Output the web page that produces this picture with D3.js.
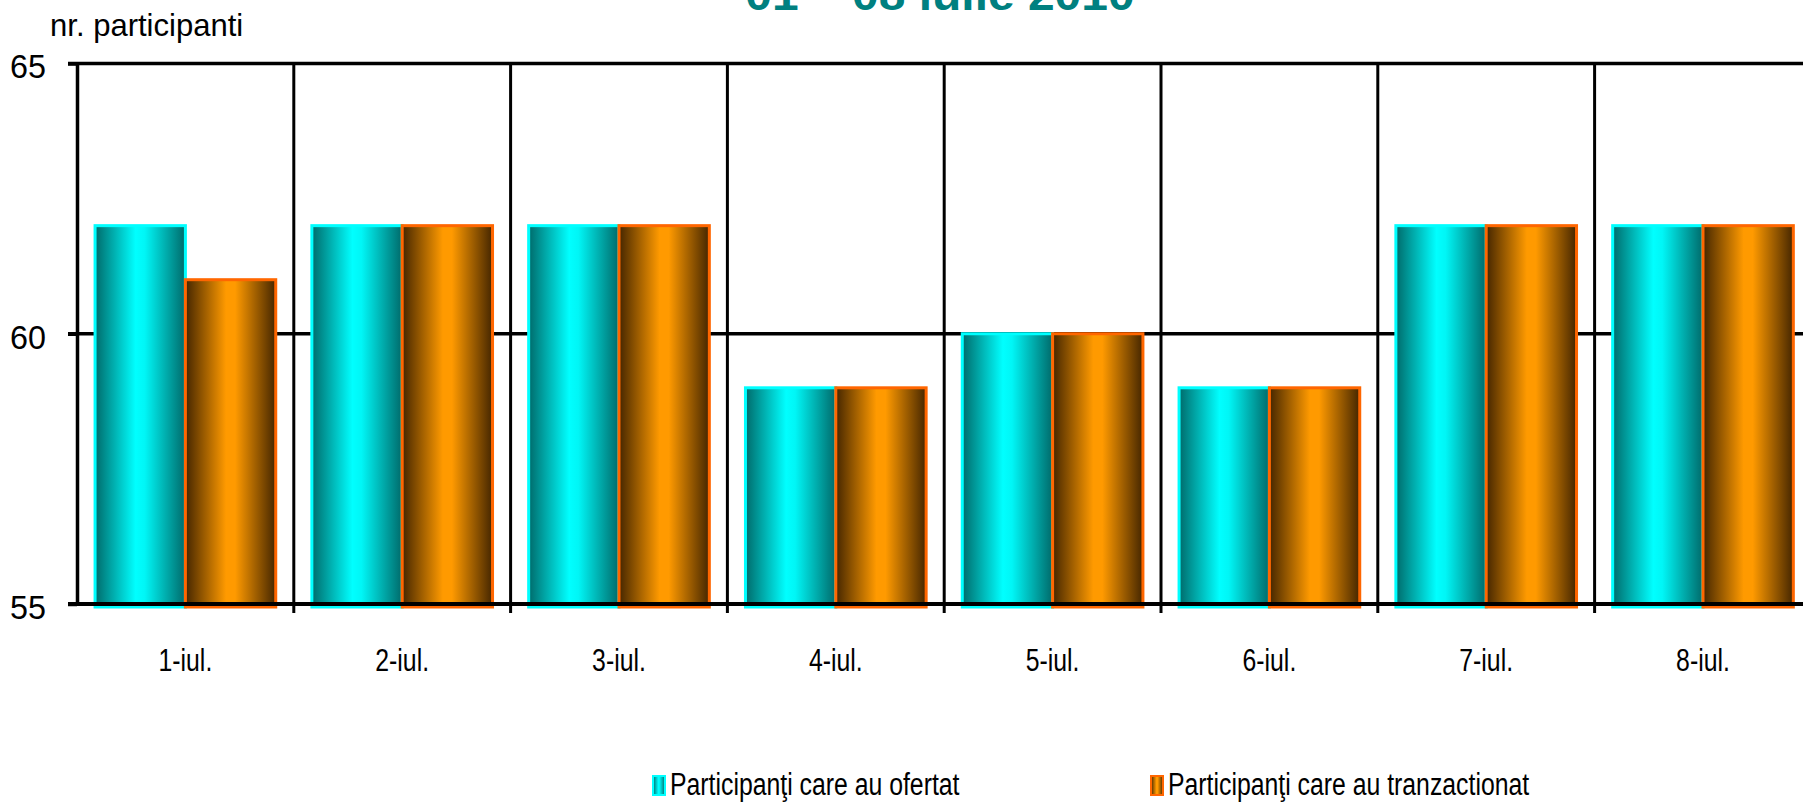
<!DOCTYPE html>
<html>
<head>
<meta charset="utf-8">
<script src="https://cdn.jsdelivr.net/npm/d3@7"></script>
<style>
    body { margin: 0; background: #fff; overflow: hidden; }
    svg { display: block; font-family: "Liberation Sans", Arial, sans-serif; }
</style>
</head>
<body>
<div id="chart"></div>
<script>
// chart data
const categories = ["1-iul.", "2-iul.", "3-iul.", "4-iul.", "5-iul.", "6-iul.", "7-iul.", "8-iul."];
const seriesNames = ["Participanţi care au ofertat", "Participanţi care au tranzactionat"];
const ofertat = [62, 62, 62, 59, 60, 59, 62, 62];
const tranzactionat = [61, 62, 62, 59, 60, 59, 62, 62];
const yTicks = [55, 60, 65];
const titleText = "01 – 08 iulie 2010";
const yLabel = "nr. participanti";

const width = 1803, height = 803;

const svg = d3.select("#chart").append("svg")
    .attr("width", width)
    .attr("height", height);

svg.append("rect").attr("width", width).attr("height", height).attr("fill", "#fff");

// squeeze text to look like the narrow font of the original
function condense(sel, factor) {
    sel.each(function() {
        let len = this.getComputedTextLength();
        d3.select(this)
            .attr("textLength", len * factor)
            .attr("lengthAdjust", "spacingAndGlyphs");
    });
}

// gradients for the bars
const defs = svg.append("defs");
const gradients = [
    {id: "gCyan", stops: [[0, "#006a6a"], [0.45, "#00ffff"], [0.55, "#00f6f6"], [1, "#006a6a"]]},
    {id: "gOrange", stops: [[0, "#452600"], [0.45, "#ff9a00"], [0.55, "#ff9a00"], [1, "#452600"]]}
];
gradients.forEach(g => {
    let lg = defs.append("linearGradient").attr("id", g.id)
        .attr("x1", 0).attr("x2", 1).attr("y1", 0).attr("y2", 0);
    g.stops.forEach(s => lg.append("stop").attr("offset", s[0]).attr("stop-color", s[1]));
});
const fills = ["url(#gCyan)", "url(#gOrange)"];
const strokes = ["#00ffff", "#ff6600"];

// scales
const left = 77, step = 216.8;
const x0 = d3.scaleBand()
    .domain(categories)
    .range([left, left + step * categories.length])
    .padding(0);

const x1 = d3.scaleBand()
    .domain(seriesNames)
    .range([0, x0.bandwidth()])
    .paddingInner(0)
    .paddingOuter(0.2);

const y = d3.scaleLinear()
    .domain([55, 65])
    .range([604, 63.5]);

// gridlines (behind bars)
const grid = svg.append("g");
grid.selectAll(".hgrid")
    .data(yTicks.filter(d => d !== 55))
    .enter().append("line")
    .attr("x1", left - 9).attr("x2", width + 20)
    .attr("y1", d => y(d)).attr("y2", d => y(d))
    .attr("stroke", "#000").attr("stroke-width", 3.5);

grid.selectAll(".vgrid")
    .data(categories)
    .enter().append("line")
    .attr("x1", d => x0(d) + x0.bandwidth()).attr("x2", d => x0(d) + x0.bandwidth())
    .attr("y1", y(65)).attr("y2", y(55) + 9)
    .attr("stroke", "#000").attr("stroke-width", 3);

// bars
const rows = categories.map((c, i) => ({cat: c, values: [ofertat[i], tranzactionat[i]]}));

const groups = svg.selectAll(".cat")
    .data(rows)
    .enter().append("g")
    .attr("transform", d => "translate(" + x0(d.cat) + ",0)");

groups.selectAll("rect")
    .data(d => d.values.map((v, j) => ({name: seriesNames[j], value: v, j: j})))
    .enter().append("rect")
    .attr("x", d => x1(d.name))
    .attr("y", d => y(d.value))
    .attr("width", x1.bandwidth())
    .attr("height", d => y(55) - y(d.value) + 3)
    .attr("fill", d => fills[d.j])
    .attr("stroke", d => strokes[d.j])
    .attr("stroke-width", 3);

// y axis
const yAxis = d3.axisLeft(y)
    .tickValues(yTicks)
    .tickSizeInner(9)
    .tickSizeOuter(0)
    .tickPadding(22)
    .tickFormat(d3.format("d"));

const yG = svg.append("g")
    .attr("transform", "translate(" + left + ",0)")
    .call(yAxis);
yG.select(".domain").attr("stroke", "#000").attr("stroke-width", 3.5);
yG.selectAll(".tick line").attr("stroke", "#000").attr("stroke-width", 3.5);
yG.selectAll(".tick text")
    .attr("font-size", 34)
    .attr("fill", "#000")
    .attr("dy", "0.42em")
    .call(condense, 0.95);

// baseline over the bars
svg.append("line")
    .attr("x1", left - 9).attr("x2", width + 20)
    .attr("y1", y(55)).attr("y2", y(55))
    .attr("stroke", "#000").attr("stroke-width", 4);

// category labels
svg.selectAll(".catLabel")
    .data(categories)
    .enter().append("text")
    .attr("x", d => x0(d) + x0.bandwidth() / 2)
    .attr("y", 671)
    .attr("text-anchor", "middle")
    .attr("font-size", 31)
    .attr("fill", "#000")
    .text(d => d)
    .call(condense, 0.8);

// y label
svg.append("text")
    .attr("x", 50).attr("y", 36)
    .attr("font-size", 32)
    .attr("fill", "#000")
    .text(yLabel)
    .call(condense, 0.97);

// title (only its lower part shows)
svg.append("text")
    .attr("x", 940).attr("y", 10)
    .attr("text-anchor", "middle")
    .attr("font-size", 44)
    .attr("font-weight", "bold")
    .attr("fill", "#008080")
    .text(titleText)
    .call(condense, 1.09);

// legend
const legendPos = [653, 1151];
const legend = svg.selectAll(".legend")
    .data(seriesNames)
    .enter().append("g")
    .attr("transform", (d, i) => "translate(" + legendPos[i] + ",776)");

legend.append("rect")
    .attr("width", 12).attr("height", 19)
    .attr("fill", (d, i) => fills[i])
    .attr("stroke", (d, i) => strokes[i])
    .attr("stroke-width", 2);

legend.append("text")
    .attr("x", 17).attr("y", 19)
    .attr("font-size", 31)
    .attr("fill", "#000")
    .text(d => d)
    .call(condense, 0.8);
</script>
</body>
</html>
